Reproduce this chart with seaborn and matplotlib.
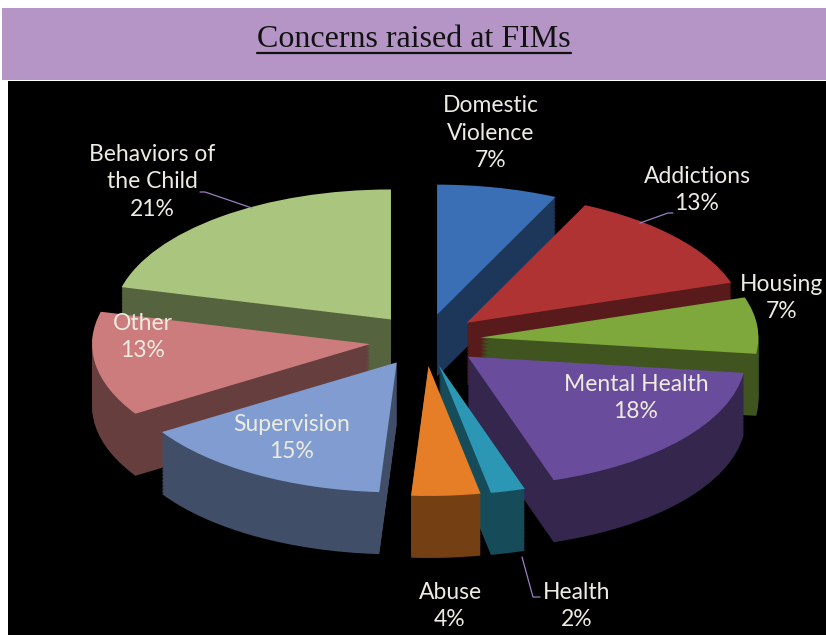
#!/usr/bin/env python3

import numpy as np
import seaborn as sns
import matplotlib.pyplot as plt
from matplotlib.colors import to_rgb

# data
categories = ['Domestic\nViolence', 'Addictions', 'Housing', 'Mental Health', 'Health',
              'Abuse', 'Supervision', 'Other', 'Behaviors of\nthe Child']
shares = [7, 13, 7, 18, 2, 4, 15, 13, 21]
colors = ['#3A6EB5', '#B03333', '#7EA83C', '#6A4C9C', '#2B97B4',
          '#E57E26', '#809CD0', '#CC7C7C', '#A9C57E']

sns.set_theme(style='white')
plt.rcParams['font.family'] = ['Lato', 'DejaVu Sans']

# pie geometry in pixels (center, radii, depth)
cx, cy, rx, ry = 425, 340, 278, 130
depth = 62 / ry
explode = [0.2] * len(shares)
nlayers = 45


def px(x, y):
    return (x - cx) / rx, (cy - y) / ry


fig = plt.figure(figsize=(8.26, 6.35), dpi=100)

# title banner
tax = fig.add_axes([2 / 826, 555 / 635, 824 / 826, 72 / 635])
tax.set_facecolor('#B495C6')
tax.set_xlim(0, 1)
tax.set_ylim(0, 1)
tax.set_xticks([])
tax.set_yticks([])
for s in tax.spines.values():
    s.set_visible(False)
title = tax.text(0.5, 0.56, 'Concerns raised at FIMs', ha='center', va='center',
                 fontsize=23, family='Liberation Serif', color='#111111')

ax = fig.add_axes([8 / 826, 0, 818 / 826, 554 / 635])

# back-to-front drawing order
total = sum(shares)
edges = 90 - 360 * np.cumsum([0] + shares) / total
mids = (edges[:-1] + edges[1:]) / 2
order = np.argsort(-np.sin(np.radians(mids)))
rank = np.empty(len(shares), int)
rank[order] = np.arange(len(shares))

side_colors = [tuple(c * 0.5 for c in to_rgb(col)) for col in colors]

for k in range(nlayers + 1):
    off = -depth * (1 - k / nlayers)
    cols = colors if k == nlayers else side_colors
    wedges, _ = ax.pie(shares, explode=explode, startangle=90, counterclock=False,
                       colors=cols, center=(0, off), radius=1, frame=True,
                       wedgeprops=dict(linewidth=0, antialiased=True))
    for i, w in enumerate(wedges):
        w.set_zorder(rank[i] * 100 + k + 1)

ax.set_aspect('auto')
ax.set_xlim((8 - cx) / rx, (826 - cx) / rx)
ax.set_ylim((cy - 635) / ry, (cy - 81) / ry)
ax.set_facecolor('black')
ax.set_xticks([])
ax.set_yticks([])
for s in ax.spines.values():
    s.set_visible(False)

# labels
label_px = [(491, 133), (697, 190), (782, 298), (636, 398), (577, 606),
            (450, 606), (292, 438), (143, 337), (152, 182)]
for name, v, (lx, ly) in zip(categories, shares, label_px):
    x, y = px(lx, ly)
    ax.text(x, y, f'{name}\n{v}%', ha='center', va='center', fontsize=16.5,
            color='#EEECE1', linespacing=1.4, zorder=2000)

# leader lines
leaders = [[(640, 223), (668, 213), (673, 213)],
           [(252, 208), (205, 192), (200, 192)],
           [(522, 557), (533, 597), (540, 597)]]
for pts in leaders:
    xy = np.array([px(*p) for p in pts])
    ax.plot(xy[:, 0], xy[:, 1], color='#9A7FC0', lw=0.9, zorder=2000)

# underline the title
fig.canvas.draw()
bb = title.get_window_extent().transformed(tax.transAxes.inverted())
tax.plot([bb.x0, bb.x1], [bb.y0 + 0.02, bb.y0 + 0.02], color='#111111', lw=1.6)

fig.savefig('out.png', dpi=100, facecolor='white')
